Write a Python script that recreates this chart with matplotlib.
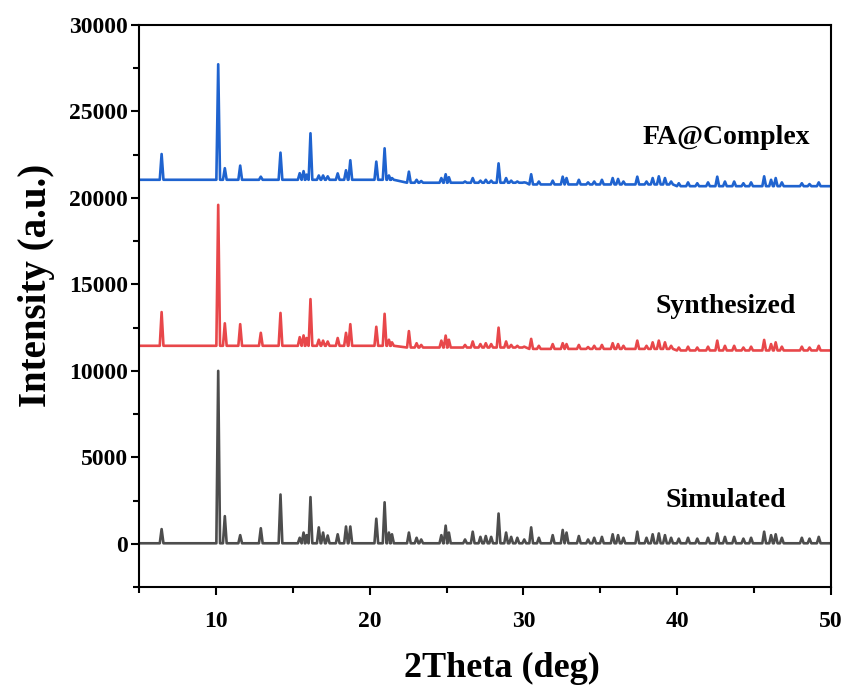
import matplotlib
matplotlib.use('Agg')
import matplotlib.pyplot as plt
from matplotlib.ticker import MultipleLocator

plt.rcParams['font.family'] = ['Liberation Serif', 'DejaVu Serif']
plt.rcParams['font.weight'] = 'bold'

# peak positions (2theta, deg), shared by the three patterns
peak_pos = [6.47, 10.15, 10.58, 11.58, 12.92, 14.20, 15.45, 15.70, 15.90, 16.15,
            16.69, 16.97, 17.27, 17.92, 18.46, 18.74, 20.43, 20.97, 21.25, 21.45,
            22.55, 23.05, 23.35, 24.66, 24.94, 25.15, 26.20, 26.70, 27.20, 27.55,
            27.90, 28.38, 28.87, 29.20, 29.60, 30.05, 30.50, 31.00, 31.90, 32.55,
            32.80, 33.60, 34.20, 34.60, 35.10, 35.80, 36.15, 36.50, 37.40, 38.00,
            38.40, 38.80, 39.20, 39.60, 40.10, 40.70, 41.30, 42.00, 42.60, 43.10,
            43.70, 44.30, 44.80, 45.65, 46.10, 46.40, 46.80, 48.10, 48.60, 49.20]

# simulated pattern: peak tops, flat baseline
sim_top = [850, 10000, 1600, 500, 900, 2850, 350, 650, 500, 2700,
           950, 650, 480, 550, 1000, 1000, 1450, 2400, 650, 550,
           650, 350, 250, 500, 1050, 650, 250, 700, 400, 450,
           400, 1750, 650, 400, 350, 250, 950, 350, 500, 800,
           650, 450, 250, 350, 400, 550, 500, 350, 700, 350,
           550, 600, 500, 350, 300, 350, 300, 350, 600, 400,
           400, 300, 350, 700, 500, 550, 350, 350, 300, 400]
sim_base = [30] * 70

# synthesized pattern (offset in the figure)
syn_top = [13400, 19600, 12750, 12700, 12200, 13350, 11950, 12050, 11900, 14150,
           11800, 11750, 11700, 11900, 12200, 12700, 12550, 13300, 11800, 11650,
           12300, 11600, 11500, 11750, 12040, 11800, 11500, 11700, 11550, 11600,
           11550, 12500, 11700, 11500, 11450, 11400, 11850, 11450, 11550, 11600,
           11550, 11500, 11380, 11450, 11500, 11600, 11550, 11450, 11750, 11450,
           11650, 11750, 11650, 11450, 11350, 11400, 11350, 11400, 11750, 11450,
           11450, 11350, 11400, 11790, 11550, 11650, 11400, 11400, 11350, 11450]
syn_base = [11450] * 20 + [11350] * 16 + [11270] * 18 + [11180] * 16

# FA@Complex pattern
fa_top = [22540, 27730, 21720, 21870, 21230, 22620, 21430, 21550, 21350, 23740,
          21300, 21300, 21250, 21420, 21600, 22180, 22100, 22870, 21300, 21150,
          21520, 21050, 20980, 21150, 21370, 21200, 20950, 21150, 21000, 21050,
          21000, 22000, 21150, 21000, 20950, 20900, 21370, 20950, 21000, 21230,
          21150, 21050, 20900, 20950, 21050, 21150, 21100, 20950, 21230, 20950,
          21150, 21250, 21150, 20950, 20850, 20900, 20850, 20900, 21230, 20950,
          20950, 20850, 20900, 21250, 21050, 21150, 20900, 20850, 20800, 20900]
fa_base = [21050] * 20 + [20880] * 16 + [20780] * 18 + [20680] * 16

labels = ['Simulated', 'Synthesized', 'FA@Complex']
colors = ['#4d4d4d', '#e8474a', '#1f63cf']


def trace(pos, top, base, hw=0.12):
    xs, ys = [5.0], [base[0]]
    for p, t, b in zip(pos, top, base):
        xs += [p - hw, p, p + hw]
        ys += [b, t, b]
    xs.append(50.0)
    ys.append(base[-1])
    return xs, ys


fig = plt.figure(figsize=(8.45, 6.89), dpi=100)
ax = fig.add_axes([0.1645, 0.148, 0.819, 0.8157])

for (top, base), c in zip([(sim_top, sim_base), (syn_top, syn_base), (fa_top, fa_base)], colors):
    xs, ys = trace(peak_pos, top, base)
    ax.plot(xs, ys, color=c, lw=1.9, solid_joinstyle='round')

ax.set_xlim(5, 50)
ax.set_ylim(-2500, 30000)
ax.xaxis.set_major_locator(MultipleLocator(10))
ax.xaxis.set_minor_locator(MultipleLocator(5))
ax.yaxis.set_major_locator(MultipleLocator(5000))
ax.yaxis.set_minor_locator(MultipleLocator(2500))
ax.tick_params(which='both', direction='out', width=1.5, top=False, right=False)
ax.tick_params(which='major', length=6)
ax.tick_params(which='minor', length=4)
ax.tick_params(axis='x', which='major', labelsize=17, pad=11)
ax.tick_params(axis='y', which='major', labelsize=17, pad=2)
for s in ax.spines.values():
    s.set_linewidth(1.5)

ax.set_xlabel('2Theta (deg)', fontsize=26, fontweight='bold')
ax.set_ylabel('Intensity (a.u.)', fontsize=28, fontweight='bold')
ax.xaxis.set_label_coords(0.525, -0.115)
ax.yaxis.set_label_coords(-0.121, 0.537)

text_y = [2120, 13330, 23140]
for lab, ty in zip(labels, text_y):
    ax.text(43.16, ty, lab, fontsize=20, fontweight='bold', ha='center', va='baseline')

fig.savefig('out.png', dpi=100)
